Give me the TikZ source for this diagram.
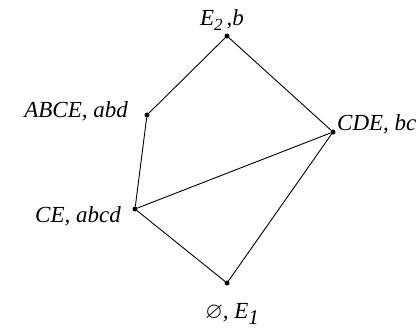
\documentclass[tikz,border=0pt]{standalone}
\usepackage{fontspec}
\setmainfont{Liberation Serif}
\usepackage{amssymb}
\newcommand{\lsub}[2]{\raisebox{-#1}{#2}}
\begin{document}
\begin{tikzpicture}[x=1pt,y=-1pt,
  dot/.style={circle,fill=black,inner sep=0pt,minimum size=5pt},
  lab/.style={font=\fontsize{23}{26}\selectfont\itshape,inner sep=0pt},
  edge/.style={line width=0.9pt}]
\useasboundingbox (0,0) rectangle (419,332);
\node[dot] (top) at (227,36) {};
\node[dot] (abce) at (147,115) {};
\node[dot] (cde) at (333,132) {};
\node[dot] (ce) at (135,209) {};
\node[dot] (bot) at (227,283) {};
\draw[edge] (top) -- (abce);
\draw[edge] (top) -- (cde);
\draw[edge] (abce) -- (ce);
\draw[edge] (ce) -- (cde);
\draw[edge] (ce) -- (bot);
\draw[edge] (cde) -- (bot);
\node[lab,anchor=base] (ltop) at (222,25) {E\lsub{5pt}{\fontsize{17}{19}\selectfont 2}\,,b};
\node[lab,anchor=base east] (labce) at (128,117) {ABCE, abd};
\node[lab,anchor=base west] (lcde) at (337,130) {CDE, bc};
\node[lab,anchor=base east] (lce) at (121,222) {CE, abcd};
\node[lab,anchor=base] (lbot) at (232,318) {$\varnothing$, E\lsub{6pt}{\fontsize{21}{23}\selectfont 1}};
\end{tikzpicture}
\end{document}
